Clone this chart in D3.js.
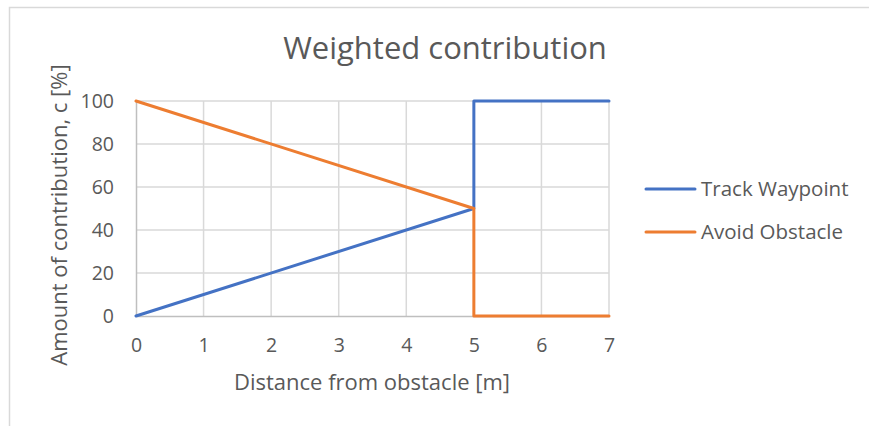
<!DOCTYPE html>
<html>
<head>
<meta charset="utf-8">
<script src="https://cdn.jsdelivr.net/npm/d3@7"></script>
<style>
  html, body { margin: 0; padding: 0; background: #fff; }
  svg { display: block; }
  text { font-family: "Open Sans", sans-serif; fill: #595959; }
</style>
</head>
<body>
<svg id="chart" width="869" height="426"></svg>
<script>
// Distance from obstacle [m]
const distance = [0, 5, 5, 7];
// Contribution [%] for each behaviour
const trackWaypoint = [0, 50, 100, 100];
const avoidObstacle = [100, 50, 0, 0];
const seriesNames = ["Track Waypoint", "Avoid Obstacle"];
const seriesColors = ["#4472C4", "#ED7D31"];
const xTicks = [0, 1, 2, 3, 4, 5, 6, 7];
const yTicks = [0, 20, 40, 60, 80, 100];

const svg = d3.select("#chart");

// Chart frame
svg.append("rect")
  .attr("x", 9.5).attr("y", 7.5)
  .attr("width", 900).attr("height", 440)
  .attr("fill", "none").attr("stroke", "#d9d9d9").attr("stroke-width", 1.5);

const x = d3.scaleLinear().domain([0, 7]).range([136, 609]);
const y = d3.scaleLinear().domain([0, 100]).range([316, 101]);

// Gridlines
const gGrid = svg.append("g");
gGrid.selectAll("line.v").data(xTicks.slice(1)).join("line")
  .attr("x1", d => x(d)).attr("x2", d => x(d))
  .attr("y1", y(0)).attr("y2", y(100))
  .attr("stroke", "#d9d9d9").attr("stroke-width", 1.5);
gGrid.selectAll("line.h").data(yTicks.slice(1)).join("line")
  .attr("x1", x(0)).attr("x2", x(7))
  .attr("y1", d => y(d)).attr("y2", d => y(d))
  .attr("stroke", "#d9d9d9").attr("stroke-width", 1.5);

// Axes
const xAxis = svg.append("g").attr("transform", `translate(0,${y(0)})`)
  .call(d3.axisBottom(x).tickValues(xTicks).tickSize(0).tickPadding(22).tickFormat(d3.format("d")));
const yAxis = svg.append("g").attr("transform", `translate(${x(0)},0)`)
  .call(d3.axisLeft(y).tickValues(yTicks).tickSize(0).tickPadding(22).tickFormat(d3.format("d")));
[xAxis, yAxis].forEach(a => {
  a.select(".domain").attr("stroke", "#bfbfbf").attr("stroke-width", 1.5);
  a.selectAll("text").attr("font-size", 19.5).attr("fill", "#595959")
    .attr("font-family", "'Open Sans', sans-serif");
});

// Series lines
const line = d3.line().x(d => x(d[0])).y(d => y(d[1]));
[trackWaypoint, avoidObstacle].forEach((vals, i) => {
  svg.append("path")
    .datum(distance.map((d, j) => [d, vals[j]]))
    .attr("d", line)
    .attr("fill", "none")
    .attr("stroke", seriesColors[i])
    .attr("stroke-width", 3)
    .attr("stroke-linejoin", "round")
    .attr("stroke-linecap", "round");
});

// Title
svg.append("text")
  .attr("x", 445).attr("y", 59)
  .attr("text-anchor", "middle")
  .attr("font-size", 31)
  .text("Weighted contribution");

// Axis titles
svg.append("text")
  .attr("x", 372).attr("y", 390)
  .attr("text-anchor", "middle")
  .attr("font-size", 22)
  .text("Distance from obstacle [m]");
svg.append("text")
  .attr("transform", "translate(67,215) rotate(-90)")
  .attr("text-anchor", "middle")
  .attr("font-size", 22)
  .text("Amount of contribution, c [%]");

// Legend
const legend = svg.append("g");
seriesNames.forEach((name, i) => {
  const ly = 189 + i * 43;
  legend.append("line")
    .attr("x1", 646).attr("x2", 695)
    .attr("y1", ly).attr("y2", ly)
    .attr("stroke", seriesColors[i]).attr("stroke-width", 3)
    .attr("stroke-linecap", "round");
  legend.append("text")
    .attr("x", 701).attr("y", ly + 7)
    .attr("font-size", 20.5)
    .text(name);
});
</script>
</body>
</html>
